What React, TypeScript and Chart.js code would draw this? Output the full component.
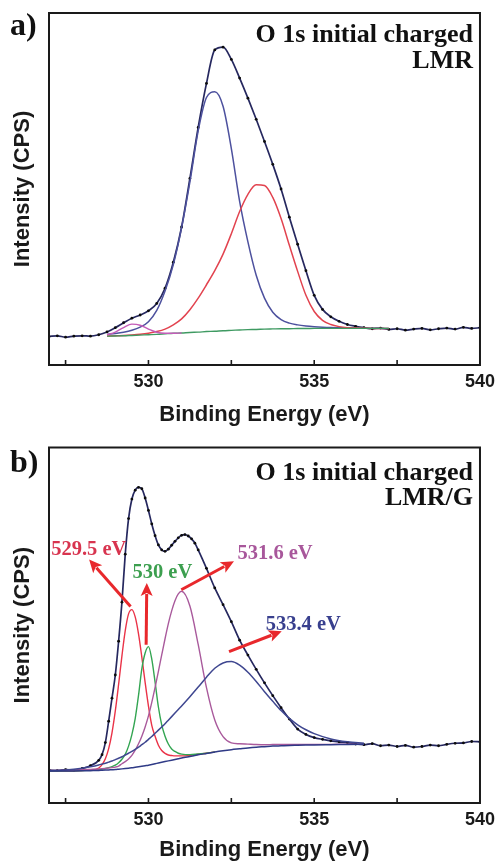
import React, { useEffect, useRef } from "react";
import { Chart, registerables } from "chart.js";

Chart.register(...registerables);

// ---------------- shared axis ----------------
const X_MIN = 527;
const X_MAX = 540;
const Y_MIN = 0;
const Y_MAX = 100;
const xMajorTicks = [530, 535, 540];
const xMinorTicks = [527.5, 532.5, 537.5];
const xTickLabels = ["530", "535", "540"];
const xTitle = "Binding Energy (eV)";
const yTitle = "Intensity (CPS)";

// ---------------- panel a) LMR ----------------
const energyA = [
  527, 527.25, 527.5, 527.75, 528, 528.25, 528.5, 528.75, 529, 529.25, 529.5, 529.75,
  530, 530.25, 530.5, 530.75, 531, 531.25, 531.5, 531.75, 532, 532.25, 532.5, 532.75,
  533, 533.25, 533.5, 533.75, 534, 534.25, 534.5, 534.75, 535, 535.25, 535.5, 535.75,
  536, 536.25, 536.5, 536.75, 537, 537.25, 537.5, 537.75, 538, 538.25, 538.5, 538.75,
  539, 539.25, 539.5, 539.75, 540,
];
const countsA = [
  8.1, 8.3, 7.9, 8.2, 8.3, 8.2, 8.6, 9.4, 10.6, 12.0, 13.3, 14.2,
  15.4, 17.5, 21.8, 29.2, 39.2, 53.0, 67.5, 80.0, 89.5, 90.3, 86.8, 81.5,
  75.8, 69.8, 63.5, 57.0, 50.0, 42.0, 34.3, 26.8, 19.8, 15.8, 13.7, 12.4,
  11.5, 11.0, 10.6, 10.3, 10.5, 10.1, 10.3, 9.9, 10.2, 10.4, 10.0, 10.3,
  10.5, 10.2, 10.7, 10.4, 10.6,
];
const fitEnergyA = [
  528.75, 529, 529.25, 529.5, 529.75, 530, 530.25, 530.5, 530.75, 531, 531.25, 531.5,
  531.75, 532, 532.25, 532.5, 532.75, 533, 533.25, 533.5, 533.75, 534, 534.25, 534.5,
  534.75, 535, 535.25, 535.5, 535.75, 536, 536.25, 536.5, 536.75, 537, 537.25,
];
const backgroundA = [
  8.2, 8.25, 8.3, 8.4, 8.5, 8.6, 8.7, 8.85, 9.0, 9.1, 9.25, 9.35,
  9.5, 9.6, 9.75, 9.85, 9.95, 10.05, 10.1, 10.2, 10.25, 10.3, 10.3, 10.35,
  10.35, 10.4, 10.4, 10.4, 10.4, 10.4, 10.4, 10.4, 10.4, 10.4, 10.4,
];
const peak5295A = [8.55, 9.35, 10.65, 11.6, 11.3, 10.2, 9.3, 9.0, 9.0, 9.1];
const peak5320A = [
  8.7, 8.95, 9.3, 9.85, 10.75, 12.3, 15.5, 21.0, 28.5, 39.0, 52.0, 66.5,
  76.0, 77.6, 73.5, 61.5, 46.5, 35.0, 25.5, 19.0, 15.0, 12.9, 11.9, 11.4,
  11.1, 10.9, 10.75, 10.65, 10.6, 10.55, 10.5, 10.45, 10.45, 10.4, 10.4,
];
const peak5334A = [
  8.25, 8.3, 8.4, 8.55, 8.75, 9.05, 9.5, 10.2, 11.4, 13.1, 15.7, 19.0,
  22.8, 26.8, 31.5, 37.3, 43.6, 48.5, 51.2, 51.0, 47.6, 41.6, 34.0, 26.6,
  19.8, 15.2, 12.7, 11.5, 10.9, 10.6, 10.5, 10.45, 10.4, 10.4, 10.4,
];

// ---------------- panel b) LMR/G ----------------
const energyB = [
  527, 527.25, 527.5, 527.75, 528, 528.25, 528.5,
  528.6, 528.7, 528.8, 528.9, 529, 529.1, 529.2, 529.3, 529.4, 529.5,
  529.6, 529.7, 529.8, 529.9, 530, 530.1, 530.2, 530.3, 530.4, 530.5,
  530.6, 530.7, 530.8, 530.9, 531, 531.1, 531.2, 531.3, 531.4, 531.5,
  531.75, 532, 532.25, 532.5, 532.75, 533, 533.25, 533.5, 533.75, 534,
  534.25, 534.5, 534.75, 535, 535.25, 535.5, 535.75, 536, 536.25, 536.5,
  536.75, 537, 537.25, 537.5, 537.75, 538, 538.25, 538.5, 538.75, 539,
  539.25, 539.5, 539.75, 540,
];
const countsB = [
  9.3, 9.1, 9.4, 9.2, 9.7, 10.5, 12.0,
  13.6, 17.0, 23.0, 29.5, 36.0, 45.5, 56.5, 70.0, 80.0, 85.5,
  88.0, 88.8, 88.4, 85.8, 82.3, 78.5, 75.2, 72.6, 71.2, 70.8,
  71.4, 72.5, 73.6, 74.6, 75.3, 75.5, 75.1, 74.3, 73.1, 71.2,
  66.0, 60.5, 55.8, 51.0, 45.8, 41.6, 37.6, 33.8, 30.2, 26.8,
  23.6, 20.8, 19.3, 18.4, 17.9, 17.5, 17.2, 17.0, 16.6, 16.4,
  16.7, 16.1, 16.3, 15.9, 16.2, 15.7, 15.9, 16.3, 16.1, 16.5,
  16.8, 16.9, 17.3, 17.2,
];
const fitEnergyB = [
  527, 527.5, 528, 528.25, 528.5, 528.6, 528.7, 528.8, 528.9, 529,
  529.1, 529.2, 529.3, 529.4, 529.5, 529.6, 529.7, 529.8, 529.9, 530,
  530.1, 530.2, 530.3, 530.4, 530.5, 530.6, 530.7, 530.8, 530.9, 531,
  531.25, 531.5, 531.75, 532, 532.25, 532.5, 532.75, 533, 533.25, 533.5,
  533.75, 534, 534.25, 534.5, 534.75, 535, 535.5, 536, 536.5,
];
const backgroundB = [
  9.0, 9.0, 9.05, 9.1, 9.15, 9.2, 9.25, 9.3, 9.35, 9.4,
  9.5, 9.6, 9.7, 9.8, 9.9, 10.05, 10.2, 10.35, 10.5, 10.65,
  10.85, 11.05, 11.25, 11.45, 11.65, 11.85, 12.05, 12.25, 12.45, 12.65,
  13.1, 13.55, 13.95, 14.35, 14.7, 15.0, 15.25, 15.5, 15.7, 15.85,
  16.0, 16.1, 16.2, 16.25, 16.3, 16.35, 16.4, 16.45, 16.5,
];
const peak5295B = [
  9.0, 9.0, 9.15, 9.25, 9.85, 10.8, 12.45, 15.3, 19.75, 25.9,
  33.4, 41.4, 48.5, 53.2, 54.4, 52.35, 47.6, 41.05, 33.9, 27.25,
  21.85, 18.75, 16.25, 14.75, 13.95, 13.5, 13.35, 13.25, 13.25, 13.25,
  13.4, 13.7, 14.0, 14.35,
];
const peak5300B = [
  9.0, 9.05, 9.15, 9.25, 9.4, 9.55, 9.7, 9.95, 10.25, 10.65,
  11.35, 12.3, 13.7, 16.0, 19.25, 23.75, 30.25, 37.75, 42.2, 44.0,
  40.5, 34.0, 27.0, 22.0, 18.8, 16.6, 15.2, 14.5, 14.0, 13.75,
  13.6, 13.8, 14.0, 14.35,
];
const peak5316B = [
  9.15, 9.2, 9.35, 9.45, 9.55, 9.65, 9.75, 9.85, 9.95, 10.1,
  10.4, 11.05, 11.65, 12.4, 13.4, 14.85, 16.65, 18.8, 21.4, 24.5,
  28.3, 32.55, 37.05, 41.65, 46.2, 50.45, 54.05, 56.9, 58.8, 59.55,
  55.4, 44.6, 32.45, 23.35, 18.65, 16.9, 16.65, 16.55, 16.45, 16.4,
  16.45, 16.5, 16.5, 16.5, 16.5, 16.5, 16.5, 16.55, 16.55,
];
const peak5334B = [
  9.1, 9.3, 9.8, 10.2, 10.7, 10.95, 11.2, 11.5, 11.8, 12.2,
  12.6, 13.0, 13.5, 14.0, 14.5, 15.1, 15.7, 16.4, 17.1, 17.9,
  18.7, 19.6, 20.5, 21.4, 22.3, 23.3, 24.3, 25.3, 26.3, 27.3,
  29.9, 32.6, 35.4, 37.9, 39.4, 39.8, 38.8, 36.8, 34.2, 31.3,
  28.6, 26.0, 23.8, 22.0, 20.6, 19.5, 18.0, 17.2, 16.8,
];

// ---------------- types ----------------
type Series = { label: string; x: number[]; y: number[]; color: string; width: number; dots?: boolean };
type Arrow = { from: [number, number]; to: [number, number] };
type Note = { text: string; at: [number, number]; color: string };
type PanelSpec = {
  letter: string;
  titleLines: string[];
  series: Series[];
  arrows: Arrow[];
  notes: Note[];
  padTop: number;
  axisHeight: number;
  xTitlePadBottom: number;
  letterBaseline: number;
  titleBaselines: number[];
};

const DATA_LINE = "#26285f";

const panelA: PanelSpec = {
  letter: "a)",
  titleLines: ["O 1s initial charged", "LMR"],
  series: [
    { label: "529.5 eV", x: fitEnergyA, y: peak5295A, color: "#c45cb8", width: 1.4 },
    { label: "background", x: fitEnergyA, y: backgroundA, color: "#3f9a62", width: 1.4 },
    { label: "533.4 eV", x: fitEnergyA, y: peak5334A, color: "#e2434f", width: 1.5 },
    { label: "532.0 eV", x: fitEnergyA, y: peak5320A, color: "#4d519e", width: 1.5 },
    { label: "data", x: energyA, y: countsA, color: DATA_LINE, width: 1.7, dots: true },
  ],
  arrows: [],
  notes: [],
  padTop: 13,
  axisHeight: 67,
  xTitlePadBottom: 4,
  letterBaseline: 35,
  titleBaselines: [41.5, 68],
};

const panelB: PanelSpec = {
  letter: "b)",
  titleLines: ["O 1s initial charged", "LMR/G"],
  series: [
    { label: "background", x: fitEnergyB, y: backgroundB, color: "#2f3a86", width: 1.5 },
    { label: "533.4 eV", x: fitEnergyB, y: peak5334B, color: "#3f4790", width: 1.5 },
    { label: "531.6 eV", x: fitEnergyB, y: peak5316B, color: "#a95a9c", width: 1.4 },
    { label: "530 eV", x: fitEnergyB, y: peak5300B, color: "#33a552", width: 1.4 },
    { label: "529.5 eV", x: fitEnergyB, y: peak5295B, color: "#ea3348", width: 1.4 },
    { label: "data", x: energyB, y: countsB, color: DATA_LINE, width: 1.7, dots: true },
  ],
  arrows: [
    { from: [529.46, 55.3], to: [528.21, 68.5] },
    { from: [529.93, 44.5], to: [529.95, 61.9] },
    { from: [530.99, 60.0], to: [532.58, 68.0] },
    { from: [532.43, 42.6], to: [534.02, 48.3] },
  ],
  notes: [
    { text: "529.5 eV", at: [528.2, 69.9], color: "#d8344f" },
    { text: "530 eV", at: [530.42, 63.4], color: "#3c9f4f" },
    { text: "531.6 eV", at: [533.82, 68.5], color: "#a8579b" },
    { text: "533.4 eV", at: [534.67, 48.7], color: "#383f8e" },
  ],
  padTop: 15.5,
  axisHeight: 61,
  xTitlePadBottom: 1,
  letterBaseline: 40,
  titleBaselines: [48, 73],
};

const SANS = '"Liberation Sans", Arial, sans-serif';
const SERIF = '"Liberation Serif", "Times New Roman", serif';
const INK = "#1a1a1a";
const ARROW = "#e8282c";

function makeDecor(spec: PanelSpec) {
  return {
    id: "panelDecor",
    afterDraw(chart: any) {
      const { ctx, chartArea } = chart;
      const { left, top, right, bottom } = chartArea;
      const sx = chart.scales.x;
      const sy = chart.scales.y;
      ctx.save();
      // frame
      ctx.strokeStyle = INK;
      ctx.lineWidth = 2;
      ctx.strokeRect(left, top, right - left, bottom - top);
      // inward ticks
      ctx.lineWidth = 1.6;
      [...xMinorTicks, ...xMajorTicks].forEach((v) => {
        if (v >= X_MAX) return;
        const px = sx.getPixelForValue(v);
        ctx.beginPath();
        ctx.moveTo(px, bottom);
        ctx.lineTo(px, bottom - 5);
        ctx.stroke();
      });
      // panel letter
      ctx.fillStyle = "#111";
      ctx.textBaseline = "alphabetic";
      ctx.textAlign = "left";
      ctx.font = `bold 32px ${SERIF}`;
      ctx.fillText(spec.letter, 10, spec.letterBaseline);
      // title lines
      ctx.font = `bold 26px ${SERIF}`;
      ctx.textAlign = "right";
      spec.titleLines.forEach((t, i) => ctx.fillText(t, 473, spec.titleBaselines[i]));
      // arrows
      spec.arrows.forEach((a) => {
        const x1 = sx.getPixelForValue(a.from[0]);
        const y1 = sy.getPixelForValue(a.from[1]);
        const x2 = sx.getPixelForValue(a.to[0]);
        const y2 = sy.getPixelForValue(a.to[1]);
        const ang = Math.atan2(y2 - y1, x2 - x1);
        const head = 13;
        const half = 6;
        const bx = x2 - head * Math.cos(ang);
        const by = y2 - head * Math.sin(ang);
        ctx.strokeStyle = ARROW;
        ctx.lineWidth = 3;
        ctx.beginPath();
        ctx.moveTo(x1, y1);
        ctx.lineTo(bx + 2 * Math.cos(ang), by + 2 * Math.sin(ang));
        ctx.stroke();
        ctx.fillStyle = ARROW;
        ctx.beginPath();
        ctx.moveTo(x2, y2);
        ctx.lineTo(bx + half * Math.sin(ang), by - half * Math.cos(ang));
        ctx.lineTo(bx + 3 * Math.cos(ang), by + 3 * Math.sin(ang));
        ctx.lineTo(bx - half * Math.sin(ang), by + half * Math.cos(ang));
        ctx.closePath();
        ctx.fill();
      });
      // peak notes
      ctx.font = `bold 20.5px ${SERIF}`;
      ctx.textAlign = "center";
      spec.notes.forEach((n) => {
        ctx.fillStyle = n.color;
        ctx.fillText(n.text, sx.getPixelForValue(n.at[0]), sy.getPixelForValue(n.at[1]));
      });
      ctx.restore();
    },
  };
}

function Panel({ spec }: { spec: PanelSpec }) {
  const ref = useRef<HTMLCanvasElement | null>(null);
  useEffect(() => {
    if (!ref.current) return;
    const allTicks = [...xMinorTicks, ...xMajorTicks].sort((p, q) => p - q);
    const chart = new Chart(ref.current, {
      type: "line",
      data: {
        datasets: spec.series.map((s) => ({
          label: s.label,
          data: s.y.map((v, i) => ({ x: s.x[i], y: v })),
          borderColor: s.color,
          borderWidth: s.width,
          pointRadius: s.dots ? 1.4 : 0,
          pointHoverRadius: 0,
          pointBorderWidth: 0,
          pointBackgroundColor: "#0c0c0c",
          cubicInterpolationMode: "monotone" as const,
          fill: false,
        })),
      },
      options: {
        animation: false,
        responsive: false,
        maintainAspectRatio: false,
        events: [],
        layout: { padding: { left: 0, right: 16, top: spec.padTop, bottom: 0 } },
        plugins: {
          legend: { display: false },
          tooltip: { enabled: false },
        },
        scales: {
          x: {
            type: "linear",
            min: X_MIN,
            max: X_MAX,
            position: "bottom",
            afterBuildTicks: (sc: any) => {
              sc.ticks = allTicks.map((v) => ({ value: v }));
            },
            afterFit: (sc: any) => {
              sc.height = spec.axisHeight;
            },
            grid: { display: false, drawTicks: false },
            border: { display: false },
            ticks: {
              autoSkip: false,
              maxRotation: 0,
              padding: 6,
              color: INK,
              font: { family: SANS, weight: "bold", size: 18 },
              callback: (v: any) => {
                const i = xMajorTicks.indexOf(Number(v));
                return i >= 0 ? xTickLabels[i] : "";
              },
            },
            title: {
              display: true,
              text: xTitle,
              color: INK,
              font: { family: SANS, weight: "bold", size: 22 },
              padding: { top: 0, bottom: spec.xTitlePadBottom },
            },
          },
          y: {
            type: "linear",
            min: Y_MIN,
            max: Y_MAX,
            position: "left",
            afterFit: (sc: any) => {
              sc.width = 49;
            },
            grid: { display: false, drawTicks: false },
            border: { display: false },
            ticks: { display: false },
            title: {
              display: true,
              text: yTitle,
              color: INK,
              font: { family: SANS, weight: "bold", size: 22 },
              padding: { top: 10, bottom: 0 },
            },
          },
        },
      } as any,
      plugins: [makeDecor(spec)],
    });
    return () => chart.destroy();
  }, [spec]);
  return <canvas ref={ref} width={501} height={432} style={{ display: "block" }} />;
}

export default function App() {
  return (
    <div
      style={{
        position: "absolute",
        left: 0,
        top: 0,
        width: 501,
        height: 864,
        background: "#ffffff",
      }}
    >
      <Panel spec={panelA} />
      <Panel spec={panelB} />
    </div>
  );
}
